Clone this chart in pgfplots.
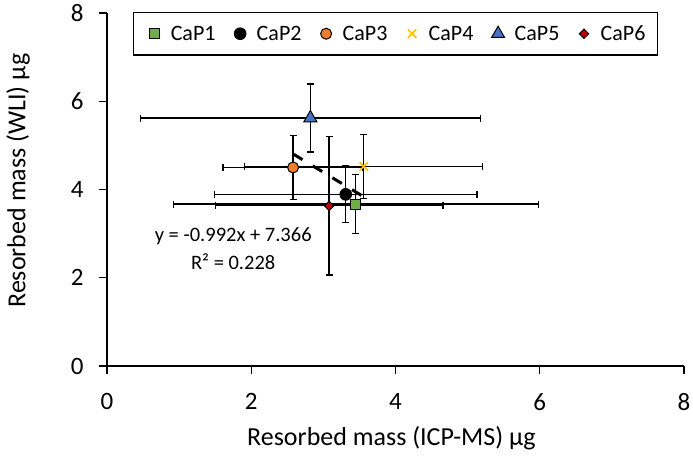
\documentclass[border=0pt]{standalone}
\usepackage{fontspec}
\setmainfont{Carlito}
\usepackage{pgfplots}
\pgfplotsset{compat=1.18}
\definecolor{cA}{HTML}{70AD47}
\definecolor{cB}{HTML}{000000}
\definecolor{cC}{HTML}{ED7D31}
\definecolor{cD}{HTML}{FFC000}
\definecolor{cE}{HTML}{4472C4}
\definecolor{cF}{HTML}{C00000}
\begin{document}
\begin{tikzpicture}
\path[use as bounding box] (0,0) rectangle (693pt,455pt);
\begin{axis}[
  at={(107pt,89pt)}, anchor=south west,
  scale only axis, width=577pt, height=353pt,
  xmin=0, xmax=8, ymin=0, ymax=8,
  xtick={0,2,4,6,8}, ytick={0,2,4,6,8},
  axis lines*=left,
  axis line style={line width=1.2pt, black},
  tick align=outside, major tick length=8pt,
  tick style={line width=1.2pt, black},
  tick label style={font=\fontsize{25}{29}\selectfont},
  xticklabel style={yshift=-16pt},
  yticklabel style={xshift=-12pt},
  /pgf/number format/assume math mode=true,
  label style={font=\fontsize{26}{30}\selectfont},
  xlabel={Resorbed mass (ICP-MS) µg},
  ylabel={Resorbed mass (WLI) µg},
  xlabel style={at={(rel axis cs:0.493,-0.204)}, anchor=center},
  ylabel style={at={(rel axis cs:-0.154,0.525)}, anchor=center},
  clip=false,
  legend columns=6,
  legend image code/.code={\path (0pt,0pt) (16pt,0pt); \draw[#1] plot coordinates {(8pt,0pt)};},
  legend style={at={(rel axis cs:0.045,1.003)}, anchor=north west,
    font=\fontsize{22}{26}\selectfont, draw=black, line width=1.2pt,
    inner xsep=12pt, inner ysep=13pt,
    nodes={inner sep=0pt},
    /tikz/every odd column/.append style={column sep=8pt},
    /tikz/every even column/.append style={column sep=16pt}},
]
% error bars
\addplot[black, only marks, mark=*, mark size=0.5pt, forget plot,
  error bars/.cd, x dir=both, x explicit, y dir=both, y explicit,
  error bar style={line width=1.3pt, black},
  error mark options={rotate=90, line width=1.3pt, mark size=3.5pt, black}]
coordinates {
  (3.45,3.67) +- (2.53,0.67)
  (3.31,3.89) +- (1.82,0.64)
  (2.58,4.50) +- (0.97,0.72)
  (3.56,4.52) +- (1.65,0.73)
  (2.82,5.62) +- (2.36,0.77)
  (3.08,3.63) +- (1.58,1.57)
};
% trendline
\addplot[black, line width=3pt, dash pattern=on 11pt off 12pt, forget plot]
coordinates {(2.58,4.807) (3.56,3.834)};
% markers
\addplot[only marks, mark=square*, mark size=5pt, mark options={fill=cA, draw=black, line width=1pt}]
coordinates {(3.45,3.67)};
\addlegendentry{CaP1}
\addplot[only marks, mark=*, mark size=5.8pt, mark options={fill=cB, draw=black, line width=1pt}]
coordinates {(3.31,3.89)};
\addlegendentry{CaP2}
\addplot[only marks, mark=*, mark size=5.5pt, mark options={fill=cC, draw=black, line width=1pt}]
coordinates {(2.58,4.50)};
\addlegendentry{CaP3}
\addplot[only marks, mark=x, mark size=6pt, mark options={draw=cD, line width=1.6pt}]
coordinates {(3.56,4.52)};
\addlegendentry{CaP4}
\addplot[only marks, mark=triangle*, mark size=7.5pt, mark options={fill=cE, draw=black, line width=1pt}]
coordinates {(2.82,5.62)};
\addlegendentry{CaP5}
\addplot[only marks, mark=square*, mark size=3.3pt, mark options={rotate=45, fill=cF, draw=black, line width=1pt}]
coordinates {(3.08,3.63)};
\addlegendentry{CaP6}
\node[font=\fontsize{20.5}{24}\selectfont] at (axis cs:1.75,2.93) {y = -0.992x + 7.366};
\node[font=\fontsize{20.5}{24}\selectfont] at (axis cs:1.75,2.36) {R² = 0.228};
\end{axis}
\end{tikzpicture}
\end{document}
